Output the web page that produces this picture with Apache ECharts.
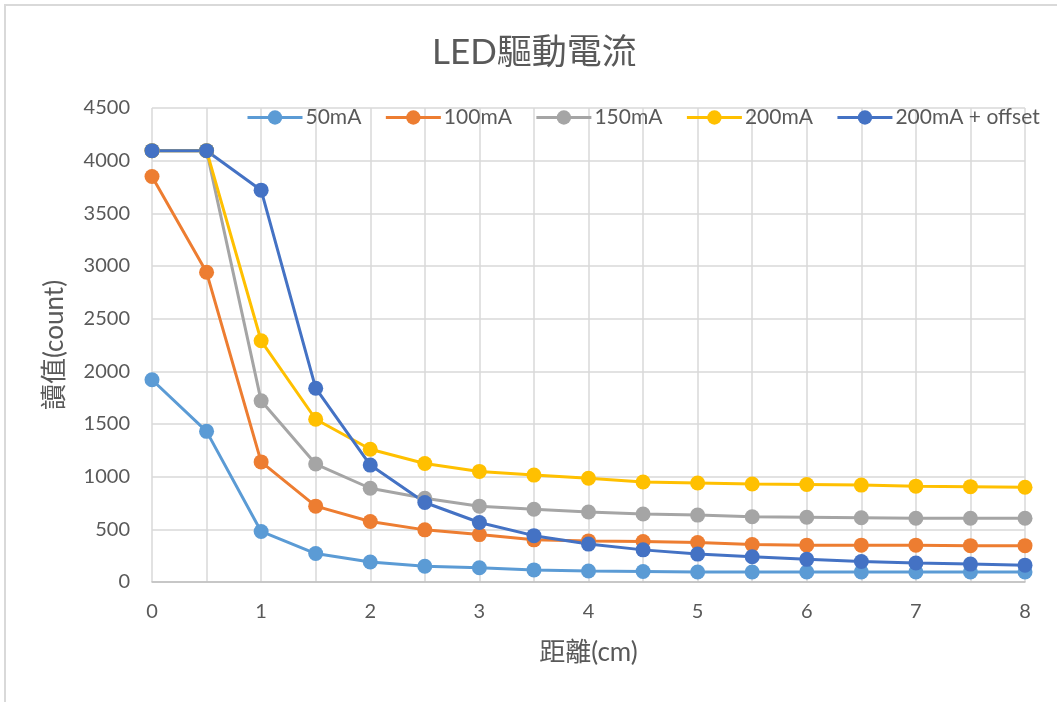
<!DOCTYPE html>
<html>
<head>
<meta charset="utf-8">
<script src="https://cdn.jsdelivr.net/npm/echarts@6/dist/echarts.min.js"></script>
<style>
  html, body { margin: 0; padding: 0; background: #fff; }
  #frame { position: absolute; left: 4px; top: 4px; width: 1053px; height: 698px;
           border-left: 2px solid #d9d9d9; border-top: 2px solid #d9d9d9; box-sizing: border-box; }
  #chart { position: absolute; left: 0; top: 0; width: 1057px; height: 702px; }
</style>
</head>
<body>
<div id="frame"></div>
<div id="chart"></div>
<script>
// Distance from the LED (cm)
const distances = [0, 0.5, 1, 1.5, 2, 2.5, 3, 3.5, 4, 4.5, 5, 5.5, 6, 6.5, 7, 7.5, 8];

// Sensor readings (count) for each drive current
const ma50      = [1920, 1430, 480, 270, 190, 150, 135, 115, 105, 100, 95, 95, 95, 95, 95, 95, 95];
const ma100     = [3850, 2940, 1140, 720, 575, 495, 450, 400, 390, 385, 375, 355, 350, 350, 350, 345, 345];
const ma150     = [4095, 4095, 1720, 1120, 890, 795, 720, 690, 665, 645, 635, 620, 615, 610, 605, 605, 605];
const ma200     = [4095, 4095, 2290, 1545, 1260, 1125, 1050, 1015, 985, 950, 940, 930, 925, 920, 910, 905, 900];
const ma200off  = [4095, 4095, 3720, 1840, 1110, 755, 565, 440, 360, 305, 265, 240, 215, 195, 180, 170, 160];

const seriesNames = ['50mA', '100mA', '150mA', '200mA', '200mA + offset'];
const seriesValues = [ma50, ma100, ma150, ma200, ma200off];
const seriesColors = ['#5B9BD5', '#ED7D31', '#A5A5A5', '#FFC000', '#4472C4'];

const yTicks = { min: 0, max: 4500, interval: 500 };

const FONT = "Lato, 'Noto Sans CJK TC', sans-serif";
const TEXT = '#595959';

const chart = echarts.init(document.getElementById('chart'), null, { renderer: 'canvas' });

chart.setOption({
  animation: false,
  backgroundColor: 'transparent',
  title: {
    text: 'LED驅動電流',
    left: 432,
    top: 35,
    padding: 0,
    textStyle: { fontFamily: FONT, fontSize: 35, fontWeight: 'normal', color: TEXT }
  },
  legend: {
    data: seriesNames,
    left: 246,
    top: 107,
    padding: 0,
    itemWidth: 55,
    itemHeight: 18,
    itemGap: 23,
    lineStyle: { width: 3 },
    textStyle: { fontFamily: FONT, fontSize: 21, color: TEXT, padding: [0, 0, 0, -2] }
  },
  grid: { left: 152, right: 32, top: 108, bottom: 120, containLabel: false },
  xAxis: {
    type: 'value',
    min: 0, max: 8, interval: 0.5,
    name: '距離(cm)',
    nameLocation: 'middle',
    nameGap: 58,
    nameTextStyle: { fontFamily: FONT, fontSize: 26, color: TEXT },
    axisLine: { show: true, lineStyle: { color: '#bfbfbf', width: 1.5 } },
    axisTick: { show: false },
    splitLine: { show: true, lineStyle: { color: '#d9d9d9', width: 1.5 } },
    axisLabel: {
      fontFamily: FONT, fontSize: 20, color: TEXT, margin: 20,
      formatter: v => (Number.isInteger(v) ? String(v) : '')
    }
  },
  yAxis: {
    type: 'value',
    min: yTicks.min, max: yTicks.max, interval: yTicks.interval,
    name: '讀值(count)',
    nameLocation: 'middle',
    nameGap: 84,
    nameTextStyle: { fontFamily: FONT, fontSize: 26, color: TEXT },
    axisLine: { show: false },
    axisTick: { show: false },
    splitLine: { show: true, lineStyle: { color: '#d9d9d9', width: 1.5 } },
    axisLabel: { fontFamily: FONT, fontSize: 20, color: TEXT, margin: 22, formatter: v => String(v) }
  },
  series: seriesNames.map((name, i) => ({
    name,
    type: 'line',
    data: distances.map((d, j) => [d, seriesValues[i][j]]),
    symbol: 'circle',
    symbolSize: 15,
    color: seriesColors[i],
    lineStyle: { width: 3, color: seriesColors[i] },
    itemStyle: { color: seriesColors[i] }
  }))
});
</script>
</body>
</html>
